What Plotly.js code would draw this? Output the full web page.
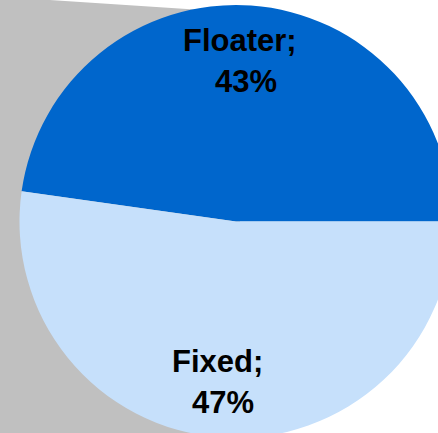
<!DOCTYPE html>
<html>
<head>
<meta charset="utf-8">
<script src="https://cdn.plot.ly/plotly-3.0.1.min.js"></script>
<style>
  html, body { margin: 0; padding: 0; overflow: hidden; background: #ffffff; }
  #chart { width: 480px; height: 460px; }
</style>
</head>
<body>
<div id="chart"></div>
<script>
// Rate-type split
const categories = ['Floater', 'Fixed'];
const shares = [43, 47];          // percent
const sliceColors = ['#0066CC', '#C6E0FB'];

// Canvas is a little larger than the window so the pie runs off the right/bottom edge
const W = 480, H = 460;
const pieBox = { left: 19.5, top: 5, size: 433 };   // pixel square holding the pie
const cx = pieBox.left + pieBox.size / 2;
const cy = pieBox.top + pieBox.size / 2;
const r = pieBox.size / 2;

const toPaperX = px => px / W;
const toPaperY = py => 1 - py / H;

// Floater starts at 3 o'clock and runs counterclockwise over the top
const total = shares.reduce((a, b) => a + b, 0);
const firstSweep = 360 * shares[0] / total;
const rotation = 90 - firstSweep;

// Mid-angle of every slice (clockwise from 12 o'clock) for the labels
const mids = [];
{
  // first slice spans [rotation, rotation + sweep]; later ones continue counterclockwise
  mids.push(rotation + firstSweep / 2);
  let start = rotation;
  for (let i = 1; i < shares.length; i++) {
    const sweep = 360 * shares[i] / total;
    mids.push(start - sweep / 2);
    start -= sweep;
  }
}

const labelFont = { family: '"Liberation Sans", Arial, sans-serif', size: 31, color: '#000000' };
const annotations = [];
mids.forEach((deg, i) => {
  const a = deg * Math.PI / 180;
  const rho = 0.745 * r;
  const px = cx + rho * Math.sin(a);
  const py = cy - rho * Math.cos(a);
  const common = {
    xref: 'paper', yref: 'paper',
    x: toPaperX(px), y: toPaperY(py),
    xanchor: 'center', yanchor: 'middle',
    showarrow: false, font: labelFont
  };
  annotations.push(Object.assign({}, common, {
    text: '<b>' + categories[i] + ';</b>', xshift: -7.5, yshift: 20.5
  }));
  annotations.push(Object.assign({}, common, {
    text: '<b>' + shares[i] + '%</b>', xshift: -1.5, yshift: -20.5
  }));
});

const trace = {
  type: 'pie',
  labels: categories,
  values: shares,
  sort: false,
  direction: 'counterclockwise',
  rotation: rotation,
  marker: { colors: sliceColors, line: { width: 0 } },
  textinfo: 'none',
  hoverinfo: 'skip',
  showlegend: false,
  domain: {
    x: [toPaperX(pieBox.left), toPaperX(pieBox.left + pieBox.size)],
    y: [toPaperY(pieBox.top + pieBox.size), toPaperY(pieBox.top)]
  }
};

// Grey backdrop panel sitting behind the pie on the left
const backdrop = [[-5, -3.6], [240, 12.5], [240, 470], [-5, 470]]
  .map(([x, y], k) => (k ? 'L' : 'M') + toPaperX(x) + ',' + toPaperY(y)).join(' ') + ' Z';

const layout = {
  width: W, height: H,
  margin: { l: 0, r: 0, t: 0, b: 0, pad: 0 },
  paper_bgcolor: '#ffffff',
  plot_bgcolor: '#ffffff',
  showlegend: false,
  shapes: [{
    type: 'path', xref: 'paper', yref: 'paper', layer: 'below',
    path: backdrop, fillcolor: '#C0C0C0', line: { width: 0 }
  }],
  annotations: annotations
};

Plotly.newPlot('chart', [trace], layout, { displayModeBar: false, staticPlot: true });
</script>
</body>
</html>
